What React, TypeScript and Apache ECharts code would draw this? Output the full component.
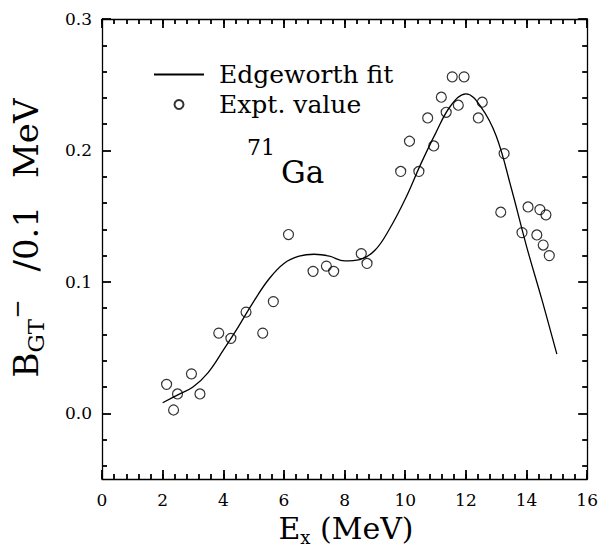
import React, { useEffect, useRef } from "react";
import * as echarts from "echarts";

// Edgeworth fit curve (E_x in MeV, B_GT- per 0.1 MeV)
const fitX = [2.0, 2.5, 3.0, 3.5, 4.0, 4.5, 5.0, 5.5, 6.0, 6.5, 7.0, 7.5, 8.0, 8.5, 9.0, 9.5, 10.0, 10.5, 11.0, 11.5, 12.0, 12.5, 13.0, 13.5, 14.0, 14.5, 15.0];
const fitY = [0.008, 0.014, 0.020, 0.031, 0.048, 0.066, 0.085, 0.102, 0.114, 0.1195, 0.121, 0.1195, 0.116, 0.117, 0.124, 0.141, 0.163, 0.189, 0.213, 0.234, 0.243, 0.233, 0.211, 0.171, 0.127, 0.087, 0.045];

// Experimental values
const exptX = [2.13, 2.36, 2.49, 2.95, 3.23, 3.85, 4.25, 4.75, 5.30, 5.65, 6.15, 6.96, 7.40, 7.64, 8.55, 8.74, 9.85, 10.14, 10.45, 10.74, 10.94, 11.19, 11.35, 11.55, 11.75, 11.94, 12.41, 12.54, 13.15, 13.26, 13.85, 14.05, 14.34, 14.44, 14.55, 14.64, 14.75];
const exptY = [0.022, 0.0025, 0.0147, 0.030, 0.0147, 0.061, 0.057, 0.077, 0.061, 0.085, 0.136, 0.108, 0.112, 0.108, 0.1215, 0.114, 0.184, 0.207, 0.184, 0.2247, 0.2034, 0.2405, 0.229, 0.256, 0.2344, 0.256, 0.2247, 0.2367, 0.153, 0.1976, 0.1375, 0.157, 0.1357, 0.155, 0.128, 0.151, 0.120];

// Axis ranges and ticks
const X_MIN = 0;
const X_MAX = 16;
const X_MAJOR_STEP = 2;
const X_MINOR_STEP = 0.4;
const Y_MIN = -0.05;
const Y_MAX = 0.3;
const yMajorTicks = [0, 0.1, 0.2, 0.3];
const yMinorTicks = [-0.04, -0.02, 0.02, 0.04, 0.06, 0.08, 0.12, 0.14, 0.16, 0.18, 0.22, 0.24, 0.26, 0.28];

const SERIF = "DejaVu Serif";
const MAJOR_LEN = 9;
const MINOR_LEN = 5;

export default function App() {
  const ref = useRef<HTMLDivElement>(null);

  useEffect(() => {
    document.body.style.margin = "0";
    if (!ref.current) return;
    const chart = echarts.init(ref.current, undefined, { renderer: "svg" });
    const ls = () => ({ color: "#000", width: 1.3 });
    const tls = () => ({ color: "#000", width: 1.8 });

    const xAxisCfg = (position: "top" | "bottom", labels: boolean, minor: boolean) => ({
      type: "value",
      position,
      min: X_MIN,
      max: X_MAX,
      interval: minor ? X_MINOR_STEP : X_MAJOR_STEP,
      axisLine: { show: !minor, onZero: false, lineStyle: ls() },
      axisTick: { show: true, inside: true, length: minor ? MINOR_LEN : MAJOR_LEN, lineStyle: tls() },
      axisLabel: labels
        ? { show: true, fontFamily: SERIF, fontSize: 17, color: "#000", margin: 12 }
        : { show: false },
      splitLine: { show: false },
    });
    const yAxisCfg = (position: "left" | "right", labels: boolean, minor: boolean) => ({
      type: "value",
      position,
      min: Y_MIN,
      max: Y_MAX,
      axisLine: { show: !minor, onZero: false, lineStyle: ls() },
      axisTick: {
        show: true,
        inside: true,
        length: minor ? MINOR_LEN : MAJOR_LEN,
        lineStyle: tls(),
        customValues: minor ? yMinorTicks : yMajorTicks,
      },
      axisLabel: labels
        ? {
            show: true,
            customValues: yMajorTicks,
            formatter: (v: number) => v.toFixed(1),
            fontFamily: SERIF,
            fontSize: 17,
            color: "#000",
            margin: 10,
          }
        : { show: false },
      splitLine: { show: false },
    });

    chart.setOption({
      animation: false,
      backgroundColor: "#fff",
      grid: { left: 102, right: 13, top: 19, bottom: 67 },
      xAxis: [
        xAxisCfg("bottom", true, false),
        xAxisCfg("bottom", false, true),
        xAxisCfg("top", false, false),
        xAxisCfg("top", false, true),
      ],
      yAxis: [
        yAxisCfg("left", true, false),
        yAxisCfg("left", false, true),
        yAxisCfg("right", false, false),
        yAxisCfg("right", false, true),
      ],
      legend: {
        orient: "vertical",
        left: 148,
        top: 57,
        itemWidth: 50,
        itemHeight: 9,
        itemGap: 5,
        selectedMode: false,
        textStyle: {
          fontFamily: SERIF,
          fontSize: 25,
          lineHeight: 25,
          color: "#000",
          padding: [0, 0, 0, 10],
        },
        data: [
          { name: "Edgeworth fit", itemStyle: { opacity: 0 } },
          { name: "Expt. value" },
        ],
      },
      series: [
        {
          name: "Edgeworth fit",
          type: "line",
          xAxisIndex: 0,
          yAxisIndex: 0,
          data: fitX.map((x, i) => [x, fitY[i]]),
          smooth: 0.4,
          symbol: "none",
          showSymbol: false,
          lineStyle: { color: "#000", width: 1.3 },
          itemStyle: { color: "#000" },
        },
        {
          name: "Expt. value",
          type: "scatter",
          xAxisIndex: 0,
          yAxisIndex: 0,
          data: exptX.map((x, i) => [x, exptY[i]]),
          symbol: "circle",
          symbolSize: 10,
          itemStyle: { color: "rgba(255,255,255,0)", borderColor: "#000", borderWidth: 1.2 },
        },
      ],
      graphic: [
        {
          type: "text",
          x: 26,
          y: 238,
          rotation: Math.PI / 2,
          style: {
            text: "{b|B}{s|GT}{u|−}{g| }{b|/0.1}{g| }{b|MeV}",
            textAlign: "center",
            textVerticalAlign: "middle",
            fill: "#000",
            rich: {
              b: { fontFamily: SERIF, fontSize: 34, lineHeight: 42, fill: "#000" },
              g: { fontFamily: SERIF, fontSize: 34, width: 28, fill: "#000" },
              s: { fontFamily: SERIF, fontSize: 23, verticalAlign: "bottom", fill: "#000" },
              u: { fontFamily: SERIF, fontSize: 23, verticalAlign: "top", fill: "#000" },
            },
          },
        },
        {
          type: "text",
          x: 346,
          y: 528,
          style: {
            text: "{b|E}{s|x}{b| (MeV)}",
            textAlign: "center",
            textVerticalAlign: "middle",
            fill: "#000",
            rich: {
              b: { fontFamily: SERIF, fontSize: 30, lineHeight: 36, fill: "#000" },
              s: { fontFamily: SERIF, fontSize: 18, verticalAlign: "bottom", fill: "#000" },
            },
          },
        },
        {
          type: "text",
          x: 247,
          y: 136,
          style: { text: "71", fontFamily: SERIF, fontSize: 22, fill: "#000", textVerticalAlign: "top" },
        },
        {
          type: "text",
          x: 281,
          y: 156,
          style: { text: "Ga", fontFamily: SERIF, fontSize: 31, fill: "#000", textVerticalAlign: "top" },
        },
      ],
    });

    return () => chart.dispose();
  }, []);

  return <div ref={ref} style={{ width: 601, height: 546 }} />;
}
